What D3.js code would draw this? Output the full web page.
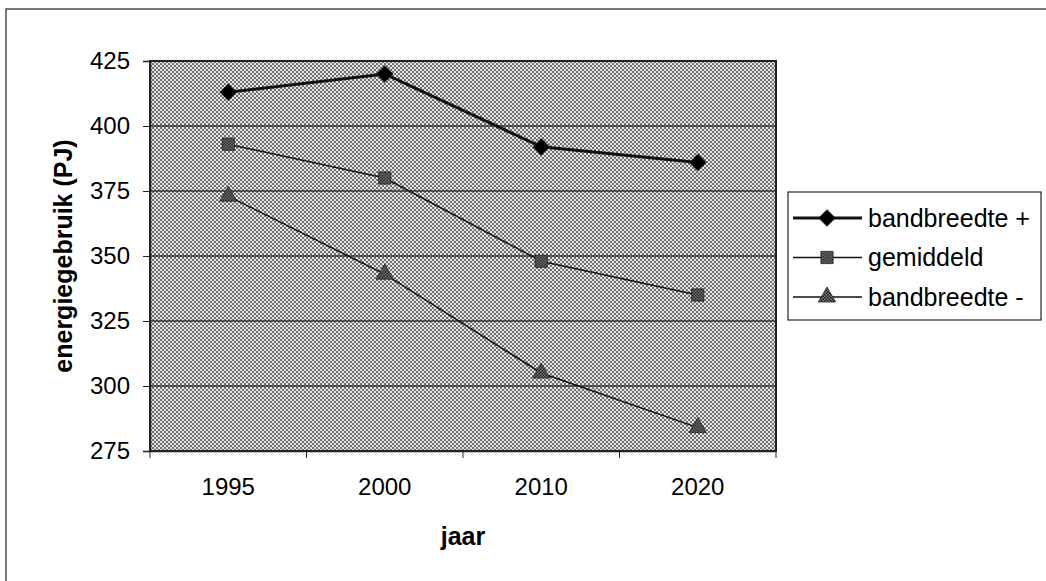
<!DOCTYPE html>
<html>
<head>
<meta charset="utf-8">
<script src="https://cdn.jsdelivr.net/npm/d3@7"></script>
<style>
body { margin: 0; background: #fff; }
text { font-family: "Liberation Sans", Arial, sans-serif; fill: #000; }
</style>
</head>
<body>
<div id="box-div"></div>
<script>
const years = ['1995', '2000', '2010', '2020'];
const bandPlus = [413, 420, 392, 386];
const gemiddeld = [393, 380, 348, 335];
const bandMin = [373, 343, 305, 284];
const yTicks = [275, 300, 325, 350, 375, 400, 425];
const seriesNames = ['bandbreedte +', 'gemiddeld', 'bandbreedte -'];

const dms = {
    width: 1046,
    height: 581,
    margin: { top: 61, right: 270, bottom: 130, left: 150 }
};
dms.contentWidth = dms.width - dms.margin.left - dms.margin.right;
dms.contentHeight = dms.height - dms.margin.top - dms.margin.bottom;

const box = d3.select('#box-div').append('svg')
    .attr('width', dms.width)
    .attr('height', dms.height);

const defs = box.append('defs');
const bgPat = defs.append('pattern')
    .attr('id', 'dither')
    .attr('width', 4).attr('height', 4)
    .attr('patternUnits', 'userSpaceOnUse');
bgPat.append('rect').attr('width', 4).attr('height', 4).attr('fill', '#e6e6e6');
bgPat.append('rect').attr('width', 2).attr('height', 2).attr('fill', '#707070');
bgPat.append('rect').attr('x', 2).attr('y', 2).attr('width', 2).attr('height', 2).attr('fill', '#707070');

const mkPat = defs.append('pattern')
    .attr('id', 'markdither')
    .attr('width', 3).attr('height', 3)
    .attr('patternUnits', 'userSpaceOnUse');
mkPat.append('rect').attr('width', 3).attr('height', 3).attr('fill', '#888');
mkPat.append('rect').attr('width', 1.5).attr('height', 1.5).attr('fill', '#111');
mkPat.append('rect').attr('x', 1.5).attr('y', 1.5).attr('width', 1.5).attr('height', 1.5).attr('fill', '#111');
//halftone look of the scanned chart

// outer chart frame (only top and left show)
box.append('rect')
    .attr('x', 6).attr('y', 9)
    .attr('width', 1100).attr('height', 700)
    .attr('fill', 'none')
    .attr('stroke', '#222')
    .attr('stroke-width', 1.2);

const content = box.append('g')
    .attr('transform', `translate(${dms.margin.left},${dms.margin.top})`);

const x = d3.scaleBand()
    .domain(years)
    .range([0, dms.contentWidth]);

const y = d3.scaleLinear()
    .domain([275, 425])
    .range([dms.contentHeight, 0]);

content.append('rect')
    .attr('width', dms.contentWidth)
    .attr('height', dms.contentHeight)
    .attr('fill', 'url(#dither)');

content.append('g')
    .selectAll('line')
    .data(yTicks.slice(1, -1))
    .join('line')
    .attr('x1', 0).attr('x2', dms.contentWidth)
    .attr('y1', d => y(d)).attr('y2', d => y(d))
    .attr('stroke', '#333')
    .attr('stroke-width', 1.3);
//gridlines

content.append('rect')
    .attr('width', dms.contentWidth)
    .attr('height', dms.contentHeight)
    .attr('fill', 'none')
    .attr('stroke', '#222')
    .attr('stroke-width', 2);

const yAxis = content.append('g')
    .call(d3.axisLeft(y).tickValues(yTicks).tickSize(7).tickPadding(13));
yAxis.select('.domain').attr('stroke', '#222').attr('stroke-width', 1.5);
yAxis.selectAll('.tick line').attr('stroke', '#222');
yAxis.selectAll('.tick text').style('font-size', '24px');

const xAxis = content.append('g')
    .attr('transform', `translate(0,${dms.contentHeight})`)
    .call(d3.axisBottom(x).tickSize(0).tickPadding(27));
xAxis.select('.domain').attr('stroke', '#222').attr('stroke-width', 1.5);
xAxis.selectAll('.tick text').style('font-size', '24px');
xAxis.selectAll('.sep')
    .data(years.concat(['end']))
    .join('line')
    .attr('class', 'sep')
    .attr('x1', (d, i) => i * x.step()).attr('x2', (d, i) => i * x.step())
    .attr('y1', 0).attr('y2', 7)
    .attr('stroke', '#222');
//category separators on the x axis

box.append('text')
    .attr('transform', `translate(72,${dms.margin.top + dms.contentHeight / 2}) rotate(-90)`)
    .attr('text-anchor', 'middle')
    .style('font-size', '25px')
    .style('font-weight', 'bold')
    .text('energiegebruik (PJ)');

box.append('text')
    .attr('x', dms.margin.left + dms.contentWidth / 2)
    .attr('y', 545)
    .attr('text-anchor', 'middle')
    .style('font-size', '25px')
    .style('font-weight', 'bold')
    .text('jaar');

const series = [
    { name: seriesNames[0], values: bandPlus, width: 3, shape: d3.symbolSquare, rot: 45, size: 140, fill: '#000' },
    { name: seriesNames[1], values: gemiddeld, width: 1.5, shape: d3.symbolSquare, rot: 0, size: 150, fill: 'url(#markdither)' },
    { name: seriesNames[2], values: bandMin, width: 1.5, shape: d3.symbolTriangle, rot: 0, size: 130, fill: 'url(#markdither)' }
];

const lineGen = d3.line()
    .x((d, i) => x(years[i]) + x.bandwidth() / 2)
    .y(d => y(d));

series.forEach(s => {
    content.append('path')
        .datum(s.values)
        .attr('d', lineGen)
        .attr('fill', 'none')
        .attr('stroke', '#111')
        .attr('stroke-width', s.width);

    content.append('g')
        .selectAll('path')
        .data(s.values)
        .join('path')
        .attr('transform', (d, i) => `translate(${x(years[i]) + x.bandwidth() / 2},${y(d)}) rotate(${s.rot})`)
        .attr('d', d3.symbol().type(s.shape).size(s.size))
        .attr('fill', s.fill)
        .attr('stroke', '#222')
        .attr('stroke-width', 0.8);
});

// legend
const legend = box.append('g').attr('transform', 'translate(788,192)');
legend.append('rect')
    .attr('width', 253).attr('height', 128)
    .attr('fill', '#fff')
    .attr('stroke', '#222')
    .attr('stroke-width', 1.2);

const items = legend.selectAll('.item')
    .data(series)
    .join('g')
    .attr('class', 'item')
    .attr('transform', (d, i) => `translate(0,${26 + i * 39.5})`);
items.append('line')
    .attr('x1', 5).attr('x2', 74)
    .attr('stroke', '#111')
    .attr('stroke-width', d => d.width);
items.append('path')
    .attr('transform', d => `translate(39,0) rotate(${d.rot})`)
    .attr('d', d => d3.symbol().type(d.shape).size(d.size)())
    .attr('fill', d => d.fill)
    .attr('stroke', '#222')
    .attr('stroke-width', 0.8);
items.append('text')
    .attr('x', 80)
    .attr('dy', '0.35em')
    .style('font-size', '25px')
    .text(d => d.name);
</script>
</body>
</html>
